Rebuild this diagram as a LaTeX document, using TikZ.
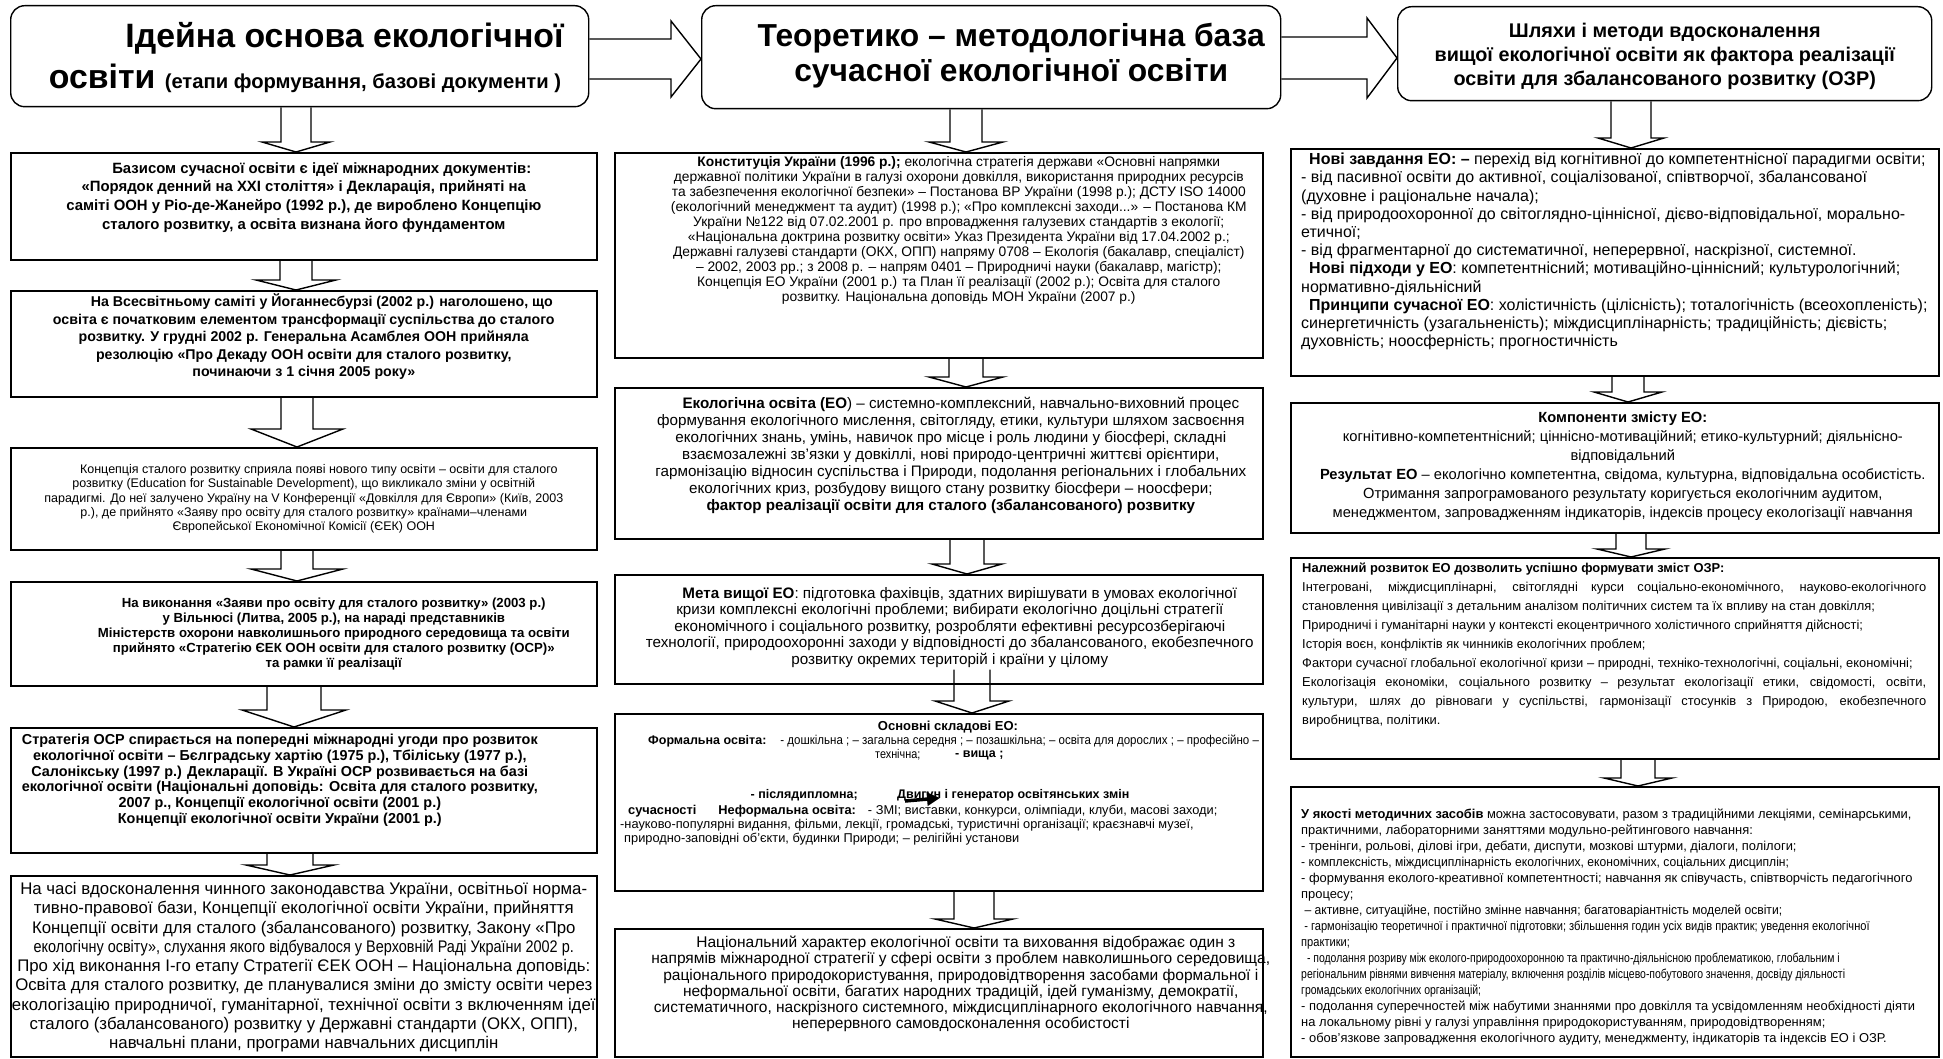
\documentclass[tikz,border=0pt]{standalone}
\usepackage{fontspec}
\setmainfont{Liberation Sans}
\newfontfamily\cnd[FakeStretch=0.86]{Liberation Sans}
\newfontfamily\mcnd[FakeStretch=0.9]{Liberation Sans}
\newfontfamily\scnd[FakeStretch=0.94]{Liberation Sans}
\newfontfamily\vcnd[FakeStretch=0.81]{Liberation Sans}
\usetikzlibrary{calc,arrows.meta}
\pgfdeclarelayer{paper}
\pgfdeclarelayer{arrowlayer}
\pgfsetlayers{paper,arrowlayer,main}
\newcommand\fs[2]{\fontsize{#1}{#2}\selectfont}
\newcommand\jline[1]{\makebox[624pt][s]{#1}}
% hollow block arrow pointing down: from the bottom of #2 to the top of #3
% #4 axis x, #5 half shaft, #6 half head, #7 head length, #8 start raised by
\newcommand\blkdown[8][blk]{%
  \draw[#1] let \p1=(#2.south), \p2=(#3.north) in
    (#4pt-#5pt,\y1+#8pt) -- (#4pt-#5pt,\y2+#7pt) -- (#4pt-#6pt,\y2+#7pt)
    -- (#4pt,\y2) -- (#4pt+#6pt,\y2+#7pt) -- (#4pt+#5pt,\y2+#7pt)
    -- (#4pt+#5pt,\y1+#8pt);}
% hollow block arrow pointing right: from the right side of #1 to the left side of #2
% #3 axis y, #4 half shaft, #5 half head, #6 head length
\newcommand\blkright[6]{%
  \draw[blk] let \p1=(#1.east), \p2=(#2.west) in
    (\x1,-#3pt+#4pt) -- (\x2-#6pt,-#3pt+#4pt) -- (\x2-#6pt,-#3pt+#5pt)
    -- (\x2,-#3pt) -- (\x2-#6pt,-#3pt-#5pt) -- (\x2-#6pt,-#3pt-#4pt)
    -- (\x1,-#3pt-#4pt);}
\tikzset{
  frame/.style={draw=black, line width=1.6pt, inner sep=0pt, anchor=north west},
  title/.style={frame, rounded corners=14pt, line width=1.4pt},
  blk/.style={draw=black, line width=1.4pt, fill=white, line join=miter},
  blkopen/.style={draw=black, line width=1.4pt, line join=miter},
  txt/.style={inner sep=0pt, align=center},
  ltxt/.style={inner sep=0pt, align=left, anchor=north west},
  wtxt/.style={inner sep=0pt, anchor=west},
}
\begin{document}
\begin{tikzpicture}[x=1pt,y=-1pt]
\useasboundingbox (0,0) rectangle (1943,1059);
\begin{pgfonlayer}{paper}
\fill[white] (0,0) rectangle (1943,1059);
\end{pgfonlayer}

% ---------- headings ----------
\node[title, minimum width=578pt, minimum height=101pt] (T1) at (10,5) {};
\node[title, minimum width=579pt, minimum height=103pt] (T2) at (701,5) {};
\node[title, minimum width=534pt, minimum height=94pt] (T3) at (1397,6) {};

\node[txt, font={\bfseries\fs{33.8}{41}}] (T1t) at (305,58)
  {\hspace*{79pt}Ідейна основа екологічної\\ освіти {\fs{20.2}{41}(етапи формування, базові документи )}};
\node[txt, font={\bfseries\fs{31.8}{35}}] (T2t) at ($(T2.center)+(20,-2)$)
  {Теоретико – методологічна база\\сучасної екологічної освіти};
\node[txt, font={\bfseries\fs{19.8}{24}}] (T3t) at ($(T3.center)+(0,3)$)
  {Шляхи і методи вдосконалення\\вищої екологічної освіти як фактора реалізації\\освіти для збалансованого розвитку (ОЗР)};

% ---------- left column ----------
\node[frame, minimum width=586pt, minimum height=107pt] (L1) at (10,152) {};
\node[frame, minimum width=586pt, minimum height=106pt] (L2) at (10,290) {};
\node[frame, minimum width=586pt, minimum height=102pt] (L3) at (10,447) {};
\node[frame, minimum width=586pt, minimum height=104pt] (L4) at (10,581) {};
\node[frame, minimum width=586pt, minimum height=125pt] (L5) at (10,727) {};
\node[frame, minimum width=586pt, minimum height=181pt] (L6) at (10,875) {};

\node[txt, font={\bfseries\fs{14.9}{18.6}}] (L1t) at ($(L1.center)+(0,-9)$) {%
\hspace*{36pt}Базисом сучасної освіти є ідеї міжнародних документів:\\
«Порядок денний на ХХІ століття» і Декларація, прийняті на\\
саміті ООН у Ріо-де-Жанейро (1992 р.), де вироблено Концепцію\\
сталого розвитку, а освіта визнана його фундаментом};

\node[txt, font={\bfseries\fs{14.2}{17.6}}] (L2t) at ($(L2.center)+(0,-7)$) {%
\hspace*{36pt}На Всесвітньому саміті у Йоганнесбурзі (2002 р.) наголошено, що\\
освіта є початковим елементом трансформації суспільства до сталого\\
розвитку. У грудні 2002 р. Генеральна Асамблея ООН прийняла\\
резолюцію «Про Декаду ООН освіти для сталого розвитку,\\
починаючи з 1 січня 2005 року»};

\node[txt, font={\fs{12.5}{14.3}}] (L3t) at (L3.center) {%
\hspace*{30pt}Концепція сталого розвитку сприяла появі нового типу освіти – освіти для сталого\\
розвитку (Education for Sustainable Development), що викликало зміни у освітній\\
парадигмі. До неї залучено Україну на V Конференції «Довкілля для Європи» (Київ, 2003\\
р.), де прийнято «Заяву про освіту для сталого розвитку» країнами–членами\\
Європейської Економічної Комісії (ЄЕК) ООН};

\node[txt, font={\bfseries\fs{13.2}{15}}] (L4t) at ($(L4.center)+(30,0)$) {%
На виконання «Заяви про освіту для сталого розвитку» (2003 р.)\\
у Вільнюсі (Литва, 2005 р.), на нараді представників\\
Міністерств охорони навколишнього природного середовища та освіти\\
прийнято «Стратегію ЄЕК ООН освіти для сталого розвитку (ОСР)»\\
та рамки її реалізації};

\node[txt, font={\bfseries\fs{14.4}{15.8}}] (L5t) at ($(L5.center)+(-24,-10)$) {%
Стратегія ОСР спирається на попередні міжнародні угоди про розвиток\\
екологічної освіти – Бєлградську хартію (1975 р.), Тбіліську (1977 р.),\\
Салонікську (1997 р.) Декларації. В Україні ОСР розвивається на базі\\
екологічної освіти (Національні доповідь: Освіта для сталого розвитку,\\
2007 р., Концепції екологічної освіти (2001 р.)\\
Концепції екологічної освіти України (2001 р.)};

\node[txt, font={\fs{16.8}{19.3}}] (L6t) at ($(L6.center)+(0,1)$) {%
На часі вдосконалення чинного законодавства України, освітньої норма-\\
тивно-правової бази, Концепції екологічної освіти України, прийняття\\
Концепції освіти для сталого (збалансованого) розвитку, Закону «Про\\
{\cnd екологічну освіту», слухання якого відбувалося у Верховній Раді України 2002 р.}\\
Про хід виконання І-го етапу Стратегії ЄЕК ООН – Національна доповідь:\\
Освіта для сталого розвитку, де планувалися зміни до змісту освіти через\\
екологізацію природничої, гуманітарної, технічної освіти з включенням ідеї\\
сталого (збалансованого) розвитку у Державні стандарти (ОКХ, ОПП),\\
навчальні плани, програми навчальних дисциплін};

% ---------- middle column ----------
\node[frame, minimum width=648pt, minimum height=205pt] (M1) at (614,152) {};
\node[frame, minimum width=648pt, minimum height=151pt] (M2) at (614,387) {};
\node[frame, minimum width=648pt, minimum height=109pt] (M3) at (614,574) {};
\node[frame, minimum width=648pt, minimum height=177pt] (M4) at (614,713) {};
\node[frame, minimum width=648pt, minimum height=128pt] (M5) at (614,928) {};

\node[txt, font={\fs{13.8}{15}}] (M1t) at ($(M1.center)+(20,-25)$) {%
{\bfseries Конституція України (1996 р.);} екологічна стратегія держави «Основні напрямки\\
державної політики України в галузі охорони довкілля, використання природних ресурсів\\
та забезпечення екологічної безпеки» – Постанова ВР України (1998 р.); ДСТУ ISO 14000\\
(екологічний менеджмент та аудит) (1998 р.); «Про комплексні заходи...» – Постанова КМ\\
України №122 від 07.02.2001 р. про впровадження галузевих стандартів з екології;\\
«Національна доктрина розвитку освіти» Указ Президента України від 17.04.2002 р.;\\
Державні галузеві стандарти (ОКХ, ОПП) напряму 0708 – Екологія (бакалавр, спеціаліст)\\
– 2002, 2003 рр.; з 2008 р. – напрям 0401 – Природничі науки (бакалавр, магістр);\\
Концепція ЕО України (2001 р.) та План її реалізації (2002 р.); Освіта для сталого\\
розвитку. Національна доповідь МОН України (2007 р.)};

\node[txt, font={\fs{15.2}{17}}] (M2t) at ($(M2.center)+(12,-8)$) {%
\hspace*{20pt}{\bfseries Екологічна освіта (ЕО}) – системно-комплексний, навчально-виховний процес\\
формування екологічного мислення, світогляду, етики, культури шляхом засвоєння\\
екологічних знань, умінь, навичок про місце і роль людини у біосфері, складні\\
взаємозалежні зв’язки у довкіллі, нові природо-центричні життєві орієнтири,\\
гармонізацію відносин суспільства і Природи, подолання регіональних і глобальних\\
екологічних криз, розбудову вищого стану розвитку біосфери – ноосфери;\\
{\bfseries фактор реалізації освіти для сталого (збалансованого) розвитку}};

\node[txt, font={\fs{15.2}{16.6}}] (M3t) at ($(M3.center)+(11,-2)$) {%
\hspace*{20pt}{\bfseries Мета вищої ЕО}: підготовка фахівців, здатних вирішувати в умовах екологічної\\
кризи комплексні екологічні проблеми; вибирати екологічно доцільні стратегії\\
економічного і соціального розвитку, розробляти ефективні ресурсозберігаючі\\
технології, природоохоронні заходи у відповідності до збалансованого, екобезпечного\\
розвитку окремих територій і країни у цілому};

% components of ecological education
\node[txt, font={\bfseries\fs{13}{15}}] (M4a) at (948,727) {Основні складові ЕО:};
\node[wtxt, font={\bfseries\fs{12.5}{14}}] (M4b) at (648,741)
  {Формальна освіта:\hspace{14pt}{\mdseries\mcnd\fs{12.8}{14}- дошкільна ; – загальна середня ; – позашкільна; – освіта для дорослих ; – професійно –}};
\node[wtxt, font={\cnd\fs{12.6}{14}}] (M4c1) at (875,755) {технічна;};
\node[wtxt, font={\bfseries\fs{12.5}{14}}] (M4c2) at (955,755) {- вища ;};
\node[inner sep=0pt, anchor=east, font={\bfseries\fs{12.5}{14}}] (M4d1) at (858,795) {- післядипломна;};
\node[wtxt, font={\bfseries\fs{12.5}{14}}] (M4d2) at (897,795) {Двигун і генератор освітянських змін};
\node[wtxt, font={\fs{12.8}{14}}] (M4e) at (628,811)
  {{\bfseries сучасності\hspace{22pt}Неформальна освіта:}\hspace{12pt}- ЗМІ; виставки, конкурси, олімпіади, клуби, масові заходи;};
\node[wtxt, font={\fs{12.8}{14}}] (M4f) at (620,825)
  {-науково-популярні видання, фільми, лекції, громадські, туристичні організації; краєзнавчі музеї,};
\node[wtxt, font={\fs{12.8}{14}}] (M4g) at (624,839)
  {природно-заповідні об’єкти, будинки Природи; – релігійні установи};
\coordinate (g1) at (905,801);
\coordinate (g2) at (940,798);
\draw[line width=3.5pt, -{Triangle[length=13pt,width=13pt]}] (g1) -- (g2);

\node[txt, font={\fs{15.5}{16.2}}, anchor=north] (M5t) at ($(M5.north)+(22,8)$) {%
\hspace*{10pt}Національний характер екологічної освіти та виховання відображає один з\\
напрямів міжнародної стратегії у сфері освіти з проблем навколишнього середовища,\\
раціонального природокористування, природовідтворення засобами формальної і\\
неформальної освіти, багатих народних традицій, ідей гуманізму, демократії,\\
систематичного, наскрізного системного, міждисциплінарного екологічного навчання,\\
неперервного самовдосконалення особистості};

% ---------- right column ----------
\node[frame, minimum width=648pt, minimum height=227pt] (R1) at (1290,148) {};
\node[frame, minimum width=648pt, minimum height=130pt] (R2) at (1290,402) {};
\node[frame, minimum width=648pt, minimum height=201pt] (R3) at (1290,557) {};
\node[frame, minimum width=648pt, minimum height=270pt] (R4) at (1290,786) {};

\node[ltxt, font={\fs{16}{18.2}}] (R1t) at (1301,153) {%
\hspace*{8pt}{\bfseries Нові завдання ЕО: –} перехід від когнітивної до компетентнісної парадигми освіти;\\
- від пасивної освіти до активної, соціалізованої, співтворчої, збалансованої\\
(духовне і раціональне начала);\\
- від природоохоронної до світоглядно-ціннісної, дієво-відповідальної, морально-\\
етичної;\\
- від фрагментарної до систематичної, неперервної, наскрізної, системної.\\
\hspace*{8pt}{\bfseries Нові підходи у ЕО}: компетентнісний; мотиваційно-ціннісний; культурологічний;\\
нормативно-діяльнісний\\
\hspace*{8pt}{\bfseries Принципи сучасної ЕО}: холістичність (цілісність); тоталогічність (всеохопленість);\\
синергетичність (узагальненість); міждисциплінарність; традиційність; дієвість;\\
духовність; ноосферність; прогностичність};

\node[txt, font={\fs{14.7}{19}}, anchor=north] (R2t) at ($(R2.north)+(8,10)$) {%
{\bfseries Компоненти змісту ЕО:}\\
когнітивно-компетентнісний; ціннісно-мотиваційний; етико-культурний; діяльнісно-\\
відповідальний\\
{\bfseries Результат ЕО} – екологічно компетентна, свідома, культурна, відповідальна особистість.\\
Отримання запрограмованого результату коригується екологічним аудитом,\\
менеджментом, запровадженням індикаторів, індексів процесу екологізації навчання};

\node[ltxt, font={\fs{12.9}{19}}] (R3t) at (1302,563) {%
{\bfseries Належний розвиток ЕО дозволить успішно формувати зміст ОЗР:}\\
\jline{Інтегровані, міждисциплінарні, світоглядні курси соціально-економічного, науково-екологічного}\\
становлення цивілізації з детальним аналізом політичних систем та їх впливу на стан довкілля;\\
Природничі і гуманітарні науки у контексті екоцентричного холістичного сприйняття дійсності;\\
Історія воєн, конфліктів як чинників екологічних проблем;\\
Фактори сучасної глобальної екологічної кризи – природні, техніко-технологічні, соціальні, економічні;\\
\jline{Екологізація економіки, соціального розвитку – результат екологізації етики, свідомості, освіти,}\\
\jline{культури, шлях до рівноваги у суспільстві, гармонізації стосунків з Природою, екобезпечного}\\
виробництва, політики.};

\node[ltxt, font={\fs{12.9}{16}}] (R4t) at (1301,809) {%
{\bfseries У якості методичних засобів} можна застосовувати, разом з традиційними лекціями, семінарськими,\\
практичними, лабораторними заняттями модульно-рейтингового навчання:\\
- тренінги, рольові, ділові ігри, дебати, диспути, мозкові штурми, діалоги, полілоги;\\
{\scnd - комплексність, міждисциплінарність екологічних, економічних, соціальних дисциплін;}\\
- формування еколого-креативної компетентності; навчання як співучасть, співтворчість педагогічного\\
процесу;\\
{\scnd\ – активне, ситуаційне, постійно змінне навчання; багатоваріантність моделей освіти;}\\
{\cnd\ - гармонізацію теоретичної і практичної підготовки; збільшення годин усіх видів практик; уведення екологічної}\\
{\cnd практики;}\\
{\vcnd\ \ - подолання розриву між еколого-природоохоронною та практично-діяльнісною проблематикою, глобальним і}\\
{\vcnd регіональним рівнями вивчення матеріалу, включення розділів місцево-побутового значення, досвіду діяльності}\\
{\vcnd громадських екологічних організацій;}\\
- подолання суперечностей між набутими знаннями про довкілля та усвідомленням необхідності діяти\\
на локальному рівні у галузі управління природокористуванням, природовідтворенням;\\
- обов'язкове запровадження екологічного аудиту, менеджменту, індикаторів та індексів ЕО і ОЗР.};

% ---------- block arrows ----------
\begin{pgfonlayer}{arrowlayer}
\blkright{T1}{T2}{59}{20}{38}{30}
\blkright{T2}{T3}{58}{21}{40}{30}

\blkdown{T1}{L1}{296}{15}{34}{10}{0}
\blkdown{L1}{L2}{296}{16}{40}{10}{0}
\blkdown{L2}{L3}{297}{16}{46}{18}{0}
\blkdown{L3}{L4}{297}{16}{46}{12}{0}
\blkdown{L4}{L5}{294}{27}{52}{17}{0}
\blkdown{L5}{L6}{290}{23}{44}{10}{0}

\blkdown{T2}{M1}{966}{16}{37}{10}{0}
\blkdown{M1}{M2}{966}{17}{37}{10}{0}
\blkdown{M2}{M3}{967}{17}{35}{10}{0}
\blkdown[blkopen]{M3}{M4}{972}{18}{37}{12}{15}
\blkdown{M4}{M5}{974}{20}{39}{9}{0}

\blkdown{T3}{R1}{1631}{20}{33}{10}{0}
\blkdown{R1}{R2}{1628}{16}{34}{10}{0}
\blkdown{R2}{R3}{1631}{15}{34}{8}{0}
\blkdown{R3}{R4}{1638}{17}{34}{8}{0}
\end{pgfonlayer}
\end{tikzpicture}
\end{document}
